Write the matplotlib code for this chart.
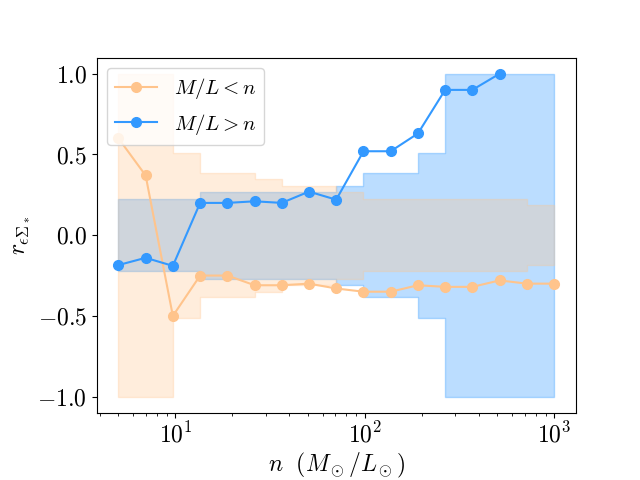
import numpy as np
import matplotlib
matplotlib.use("Agg")
import matplotlib.pyplot as plt

plt.rcParams["mathtext.fontset"] = "cm"
plt.rcParams["font.family"] = "serif"
plt.rcParams["font.serif"] = ["cmr10"]
plt.rcParams["axes.formatter.use_mathtext"] = True

# bin centres (M/L threshold n)
n_vals = [5.0, 6.96, 9.69, 13.5, 18.8, 26.2, 36.4, 50.7, 70.6, 98.4,
          137.0, 190.7, 265.5, 369.7, 514.7, 716.7, 1000.0]

# correlation coefficients
r_low = [0.60, 0.37, -0.50, -0.25, -0.25, -0.31, -0.31, -0.30, -0.33, -0.35,
         -0.35, -0.31, -0.32, -0.32, -0.28, -0.30, -0.30]
r_high = [-0.185, -0.14, -0.19, 0.20, 0.20, 0.21, 0.20, 0.27, 0.22, 0.52,
          0.52, 0.63, 0.90, 0.90, 1.00, np.nan, np.nan]

# significance bands (+/-)
band_low = [1.0, 1.0, 0.51, 0.385, 0.385, 0.35, 0.307, 0.307, 0.27, 0.224,
            0.224, 0.224, 0.224, 0.224, 0.224, 0.185, 0.185]
band_high = [0.224, 0.224, 0.224, 0.27, 0.27, 0.27, 0.27, 0.27, 0.307, 0.385,
             0.385, 0.51, 1.0, 1.0, 1.0, 1.0, 1.0]

c_low = "#ffc48c"
c_high = "#1e90ff"
c_high_line = "#3399ff"

x = np.array(n_vals)
bl = np.array(band_low)
bh = np.array(band_high)

fig = plt.figure(figsize=(6.4, 4.8), dpi=100)
ax = fig.add_axes([0.151, 0.14, 0.749, 0.74])

ax.fill_between(x, -bh, bh, step="post", color=c_high, alpha=0.3)
ax.fill_between(x, -bl, bl, step="post", color=c_low, alpha=0.3)

ax.plot(x, r_low, "o-", color=c_low, ms=7, lw=1.5, label=r"$M/L < n$")
ax.plot(x, r_high, "o-", color=c_high_line, ms=7, lw=1.5, label=r"$M/L > n$")

ax.set_xscale("log")
ax.set_xlabel(r"$n\ \ (M_\odot/L_\odot)$", fontsize=17, labelpad=2)
ax.set_ylabel(r"$r_{\epsilon\Sigma_*}$", fontsize=17)
ax.tick_params(labelsize=17)
ax.set_yticks([-1.0, -0.5, 0.0, 0.5, 1.0])
ax.legend(loc="upper left", fontsize=15)

fig.savefig("out.png", dpi=100)
